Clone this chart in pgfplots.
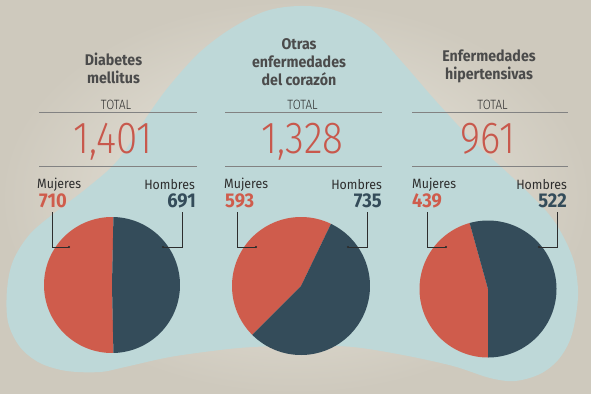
\documentclass[border=0pt]{standalone}
\usepackage{pgfplots}
\pgfplotsset{compat=1.18}
\usepackage{fontspec}
\setmainfont{Fira Sans}
\newfontfamily\lightf[FakeStretch=0.86]{Fira Sans Light}
\newfontfamily\boldf[FakeStretch=0.92]{Fira Sans Bold}
\newfontfamily\regf[FakeStretch=0.92]{Fira Sans}
\definecolor{bgin}{RGB}{236,233,224}
\definecolor{bgout}{RGB}{206,201,189}
\definecolor{shape}{RGB}{190,216,216}
\definecolor{pred}{RGB}{207,92,76}
\definecolor{pdark}{RGB}{52,76,90}
\definecolor{numred}{RGB}{200,88,76}
\definecolor{title}{RGB}{75,75,75}
\definecolor{lab}{RGB}{45,45,45}
\definecolor{rule}{RGB}{130,130,130}

% values: Mujeres, Hombres
\def\MA{710}\def\HA{691}
\def\MB{593}\def\HB{735}
\def\MC{439}\def\HC{522}

\begin{document}
\begin{tikzpicture}
\begin{axis}[width=591bp,height=394bp,scale only axis,
  xmin=0,xmax=591,ymin=0,ymax=394,y dir=reverse,hide axis,clip=false]
\shade[inner color=bgin, outer color=bgout] (axis cs:0,0) rectangle (axis cs:591,394);
% bell-shaped backdrop
\addplot[fill=shape, draw=none, smooth, tension=0.55] coordinates {
(303,345) (353,347) (403,355) (453,366) (490,378) (515,381) (540,374) (558,360)
(570,340) (576,315) (578,290) (574,262) (563,236) (547,212) (512,177) (472,140)
(435,100) (402,62) (370,28) (334,10) (300,6) (266,11) (232,28) (200,52) (170,85)
(148,115) (118,160) (87,188) (57,211) (30,234) (13,261) (7,290) (8,322) (20,347)
(40,363) (67,371) (100,372) (125,367) (170,357) (220,350) (253,347) (303,345)} -- cycle;

% rules
\foreach \a/\b in {39/197,225/382,412/568}{
  \addplot[rule, line width=0.5pt] coordinates {(\a,112.5) (\b,112.5)};
  \addplot[rule, line width=0.5pt] coordinates {(\a,166.5) (\b,166.5)};
}

% pies
\pgfmathsetmacro{\SA}{360*(\MA/(\MA+\HA))}
\pgfmathsetmacro{\SB}{360*(\MB/(\MB+\HB))}
\pgfmathsetmacro{\SC}{360*(\MC/(\MC+\HC))}
\pgfmathsetmacro{\EA}{90+\SA/2+90}
\pgfmathsetmacro{\EB}{225}
\pgfmathsetmacro{\EC}{270}
\addplot[fill=pred, draw=none, domain=\EA-\SA:\EA, samples=120, variable=\t] ({112+68*cos(\t)},{285-68*sin(\t)}) -- (axis cs:112,285) -- cycle;
\addplot[fill=pdark, draw=none, domain=\EA-360:\EA-\SA, samples=120, variable=\t] ({112+68*cos(\t)},{285-68*sin(\t)}) -- (axis cs:112,285) -- cycle;
\addplot[fill=pred, draw=none, domain=\EB-\SB:\EB, samples=120, variable=\t] ({301+69*cos(\t)},{286-69*sin(\t)}) -- (axis cs:301,286) -- cycle;
\addplot[fill=pdark, draw=none, domain=\EB-360:\EB-\SB, samples=120, variable=\t] ({301+69*cos(\t)},{286-69*sin(\t)}) -- (axis cs:301,286) -- cycle;
\addplot[fill=pred, draw=none, domain=\EC-\SC:\EC, samples=120, variable=\t] ({488+68.5*cos(\t)},{289-68.5*sin(\t)}) -- (axis cs:488,289) -- cycle;
\addplot[fill=pdark, draw=none, domain=\EC-360:\EC-\SC, samples=120, variable=\t] ({488+68.5*cos(\t)},{289-68.5*sin(\t)}) -- (axis cs:488,289) -- cycle;

% connectors
\foreach \v/\h in {52/69,182/163,237/256,367/348,427/446,557/539}{
  \addplot[lab, line width=0.6pt] coordinates {(\v,212) (\v,247) (\h,247)};
  \addplot[only marks, mark=*, mark size=0.9pt, lab] coordinates {(\h,247)};
}

% titles
\tikzset{tt/.style={anchor=base, text=title, font=\boldf\fontsize{15.5}{18}\selectfont, inner sep=0pt}}
\node[tt] at (axis cs:113.5,65) {Diabetes};
\node[tt] at (axis cs:113.5,83) {mellitus};
\node[tt] at (axis cs:299,49) {Otras};
\node[tt] at (axis cs:299,67) {enfermedades};
\node[tt] at (axis cs:299,85) {del corazón};
\node[tt] at (axis cs:489,61) {Enfermedades};
\node[tt] at (axis cs:489,79) {hipertensivas};

% TOTAL
\tikzset{tot/.style={anchor=base, text=lab, font=\lightf\fontsize{13.5}{14}\selectfont, inner sep=0pt}}
\node[tot] at (axis cs:116,109) {TOTAL};
\node[tot] at (axis cs:302.5,109) {TOTAL};
\node[tot] at (axis cs:492.5,109) {TOTAL};

% big numbers
\tikzset{big/.style={anchor=base, text=numred, font=\lightf\fontsize{45}{46}\selectfont, inner sep=0pt}}
\node[big] at (axis cs:113,153) {1,401};
\node[big] at (axis cs:302.5,153) {1,328};
\node[big] at (axis cs:488,153) {961};

% labels
\tikzset{mj/.style={anchor=base west, text=lab, font=\regf\fontsize{13.5}{14}\selectfont, inner sep=0pt},
         hb/.style={anchor=base east, text=lab, font=\regf\fontsize{13.5}{14}\selectfont, inner sep=0pt},
         nm/.style={anchor=base west, text=pred, font=\boldf\fontsize{20}{20}\selectfont, inner sep=0pt},
         nh/.style={anchor=base east, text=pdark, font=\boldf\fontsize{20}{20}\selectfont, inner sep=0pt}}
\node[mj] at (axis cs:37,188) {Mujeres};
\node[nm] at (axis cs:39,207) {\MA};
\node[hb] at (axis cs:195,189) {Hombres};
\node[nh] at (axis cs:196,207) {\HA};
\node[mj] at (axis cs:224,188) {Mujeres};
\node[nm] at (axis cs:225,207) {\MB};
\node[hb] at (axis cs:382,189) {Hombres};
\node[nh] at (axis cs:382,207) {\HB};
\node[mj] at (axis cs:412,188) {Mujeres};
\node[nm] at (axis cs:412,207) {\MC};
\node[hb] at (axis cs:567,189) {Hombres};
\node[nh] at (axis cs:567,207) {\HC};
\end{axis}
\end{tikzpicture}
\end{document}
